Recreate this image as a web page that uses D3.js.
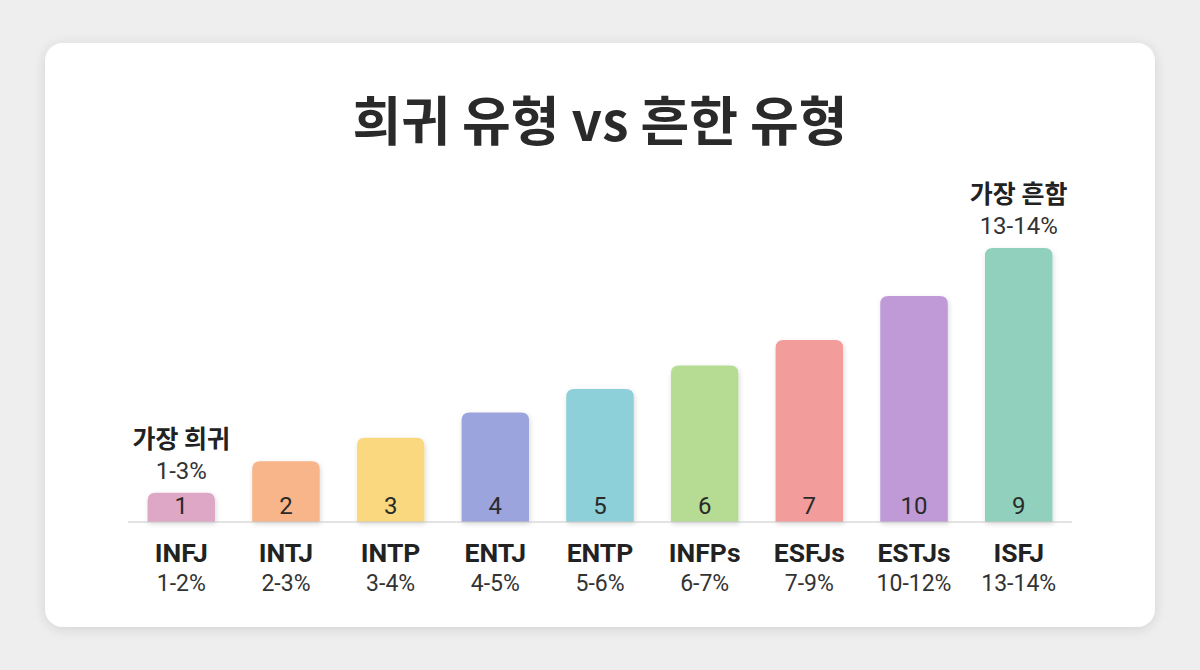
<!DOCTYPE html>
<html>
<head>
<meta charset="utf-8">
<script src="https://cdn.jsdelivr.net/npm/d3@7"></script>
<style>
  body { margin: 0; background: #eeeeee; }
  svg { display: block; font-family: Roboto, "Noto Sans CJK KR", sans-serif; }
</style>
</head>
<body>
<svg id="chart" width="1200" height="670"></svg>
<script>
// data
var types = ["INFJ", "INTJ", "INTP", "ENTJ", "ENTP", "INFPs", "ESFJs", "ESTJs", "ISFJ"]
var ranges = ["1-2%", "2-3%", "3-4%", "4-5%", "5-6%", "6-7%", "7-9%", "10-12%", "13-14%"]
var ranks = ["1", "2", "3", "4", "5", "6", "7", "10", "9"]
var heights = [1.5, 3.1, 4.3, 5.6, 6.8, 8.0, 9.3, 11.55, 14.0]
var colors = ["#dea7c6", "#f8b58a", "#f9d87f", "#9ba4dd", "#8dd0d9", "#b6dc93", "#f29c9c", "#bf9ad6", "#91d0bd"]
var notes = [{ i: 0, title: "가장 희귀", sub: "1-3%" }, { i: 8, title: "가장 흔함", sub: "13-14%" }]

var width = 1200
var height = 670
var baseY = 522
var svg = d3.select("#chart")

var defs = svg.append("defs")
defs.append("filter").attr("id", "cardShadow")
	.attr("x", "-10%").attr("y", "-10%").attr("width", "120%").attr("height", "120%")
	.append("feDropShadow")
		.attr("dx", 0).attr("dy", 2).attr("stdDeviation", 6)
		.attr("flood-color", "#000").attr("flood-opacity", 0.12)
defs.append("filter").attr("id", "barShadow")
	.attr("x", "-20%").attr("y", "-20%").attr("width", "140%").attr("height", "140%")
	.append("feDropShadow")
		.attr("dx", 1).attr("dy", 2).attr("stdDeviation", 2.5)
		.attr("flood-color", "#000").attr("flood-opacity", 0.15)

// card
svg.append("rect")
	.attr("x", 45).attr("y", 43)
	.attr("width", 1110).attr("height", 584)
	.attr("rx", 18)
	.attr("fill", "#fff")
	.attr("filter", "url(#cardShadow)")

// title
svg.append("text")
	.attr("x", width / 2).attr("y", 141)
	.attr("text-anchor", "middle")
	.attr("font-family", "'Noto Sans CJK KR', sans-serif")
	.attr("font-size", "53px")
	.attr("font-weight", "bold")
	.attr("fill", "#2a2a2a")
	.text("희귀 유형 vs 흔한 유형")

var x = d3.scaleBand()
	.domain(types)
	.range([129, 1071])
	.paddingInner(0.355)
	.paddingOuter(0.177)

var y = d3.scaleLinear()
	.domain([0, 14])
	.range([baseY, 248])

var rows = types.map((t, i) => ({ type: t, range: ranges[i], rank: ranks[i], h: heights[i], color: colors[i] }))

// bars (rounded top, square bottom)
var r = 8
svg.append("g").selectAll("path").data(rows).enter().append("path")
	.attr("d", d => {
		var x0 = x(d.type), x1 = x0 + x.bandwidth(), y0 = y(d.h)
		return "M" + x0 + "," + baseY + "V" + (y0 + r) + "Q" + x0 + "," + y0 + " " + (x0 + r) + "," + y0 +
			"H" + (x1 - r) + "Q" + x1 + "," + y0 + " " + x1 + "," + (y0 + r) + "V" + baseY + "Z"
	})
	.attr("fill", d => d.color)
	.attr("filter", "url(#barShadow)")

// baseline
svg.append("line")
	.attr("x1", 128).attr("x2", 1072)
	.attr("y1", baseY).attr("y2", baseY)
	.attr("stroke", "#c8c8c8").attr("stroke-width", 1.2)

// number inside bar
svg.append("g").selectAll("text").data(rows).enter().append("text")
	.attr("x", d => x(d.type) + x.bandwidth() / 2)
	.attr("y", baseY - 8)
	.attr("text-anchor", "middle")
	.attr("font-size", "24px")
	.attr("fill", "#2a2a2a")
	.text(d => d.rank)

// type label
svg.append("g").selectAll("text").data(rows).enter().append("text")
	.attr("x", d => x(d.type) + x.bandwidth() / 2)
	.attr("y", 562)
	.attr("text-anchor", "middle")
	.attr("font-size", "26.5px")
	.attr("font-weight", "bold")
	.attr("fill", "#222")
	.text(d => d.type)

// percentage label
svg.append("g").selectAll("text").data(rows).enter().append("text")
	.attr("x", d => x(d.type) + x.bandwidth() / 2)
	.attr("y", 591)
	.attr("text-anchor", "middle")
	.attr("font-size", "23px")
	.attr("fill", "#333")
	.text(d => d.range)

// annotations above extreme bars
var ann = svg.append("g").selectAll("g").data(notes).enter().append("g")
ann.append("text")
	.attr("x", d => x(types[d.i]) + x.bandwidth() / 2)
	.attr("y", d => y(heights[d.i]) - 45)
	.attr("text-anchor", "middle")
	.attr("font-family", "'Noto Sans CJK KR', sans-serif")
	.attr("font-size", "25px")
	.attr("font-weight", "bold")
	.attr("fill", "#222")
	.text(d => d.title)
ann.append("text")
	.attr("x", d => x(types[d.i]) + x.bandwidth() / 2)
	.attr("y", d => y(heights[d.i]) - 14)
	.attr("text-anchor", "middle")
	.attr("font-size", "24px")
	.attr("fill", "#333")
	.text(d => d.sub)
</script>
</body>
</html>
